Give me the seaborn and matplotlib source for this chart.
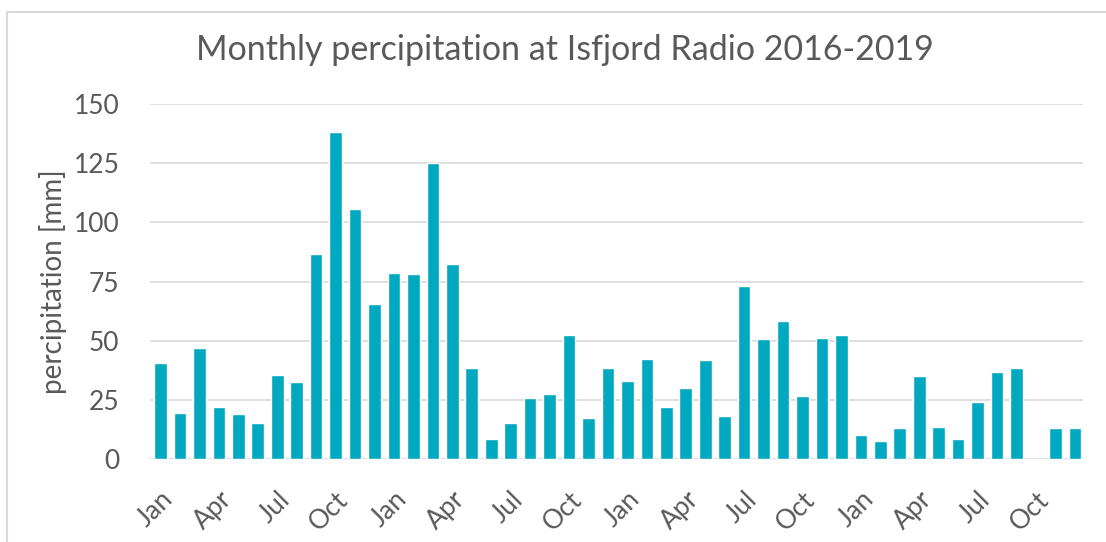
import numpy as np
import pandas as pd
import matplotlib
matplotlib.use("Agg")
import matplotlib.pyplot as plt
import seaborn as sns
from matplotlib.patches import Rectangle

# ---- data ----
years = [2016, 2017, 2018, 2019]
month_names = ["Jan", "Feb", "Mar", "Apr", "May", "Jun",
               "Jul", "Aug", "Sep", "Oct", "Nov", "Dec"]
precip_2016 = [40.4, 19.6, 47.0, 22.1, 19.0, 15.4, 35.5, 32.4, 86.6, 138.3, 105.5, 65.4]
precip_2017 = [78.7, 78.3, 124.9, 82.5, 38.3, 8.3, 15.4, 25.8, 27.6, 52.4, 17.5, 38.3]
precip_2018 = [33.1, 42.3, 22.1, 30.0, 41.8, 18.3, 73.2, 50.6, 58.3, 26.6, 51.3, 52.4]
precip_2019 = [10.1, 7.7, 13.2, 35.1, 13.5, 8.6, 23.9, 36.8, 38.3, np.nan, 13.0, 13.2]
tick_months = ["Jan", "Apr", "Jul", "Oct"]

values = precip_2016 + precip_2017 + precip_2018 + precip_2019
periods = [f"{y}-{m}" for y in years for m in month_names]
labels = [m for y in years for m in month_names]
df = pd.DataFrame({"period": periods, "precip": values, "month": labels})

TEXT = "#595959"
BAR = "#00A9BF"
GRID = "#D9D9D9"

sns.set_theme(style="white")
plt.rcParams["font.family"] = ["Lato", "DejaVu Sans"]

fig = plt.figure(figsize=(11.06, 5.42), dpi=100)
ax = fig.add_axes([150 / 1106, 1 - 459 / 542, (1083 - 150) / 1106, (459 - 104) / 542])

sns.barplot(data=df, x="period", y="precip", color=BAR, saturation=1,
            width=0.65, ax=ax, order=periods)

ax.set_ylim(0, 150)
ax.set_xlim(-0.54, len(periods) - 1 + 0.42)
ax.set_yticks([0, 25, 50, 75, 100, 125, 150])
ax.yaxis.grid(True, color=GRID, linewidth=1.2)
ax.set_axisbelow(True)
for s in ax.spines.values():
    s.set_visible(False)

tick_pos = [i for i, m in enumerate(labels) if m in tick_months]
ax.set_xticks(tick_pos)
ax.set_xticklabels([labels[i] for i in tick_pos], rotation=45, ha="right",
                   rotation_mode="anchor", fontsize=19, color=TEXT)
ax.tick_params(axis="y", labelsize=19, labelcolor=TEXT, length=0, pad=22)
ax.tick_params(axis="x", length=0, pad=20)
ax.set_xlabel("")
ax.set_ylabel("percipitation [mm]", fontsize=20, color=TEXT, labelpad=5)

fig.suptitle("Monthly percipitation at Isfjord Radio 2016-2019", x=565 / 1106,
             y=1 - 50 / 542, va="center", fontsize=24.5, color=TEXT)

# chart-area border
fig.patches.append(Rectangle((7 / 1106, -0.05), 1.2, 1 - 12 / 542 + 0.05,
                             transform=fig.transFigure, fill=False,
                             edgecolor=GRID, linewidth=1.5))

fig.savefig("out.png", dpi=100, facecolor="white")
